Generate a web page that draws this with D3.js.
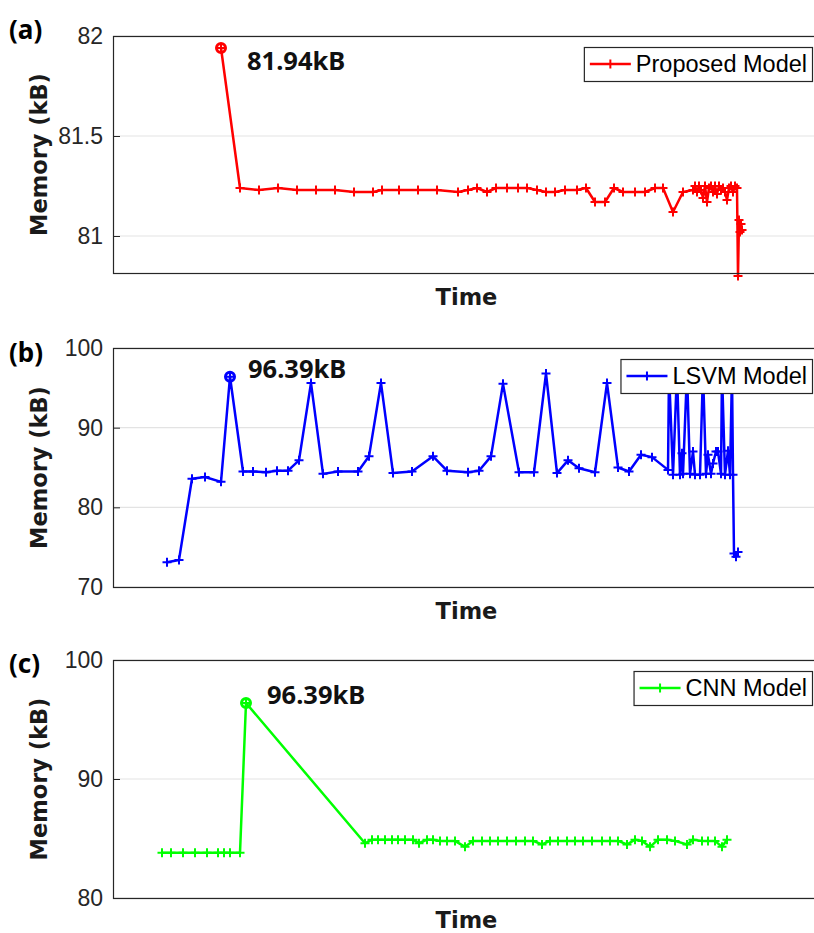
<!DOCTYPE html>
<html>
<head>
<meta charset="utf-8">
<script src="https://cdn.jsdelivr.net/npm/d3@7"></script>
<style>
  body { margin: 0; background: #fff; }
  svg text { font-family: 'Liberation Sans', Arial, sans-serif; }
</style>
</head>
<body>
<div id="chart"></div>
<script>
// Time has no tick labels in the figure, so it is just a run index here (0..707)
const timeProposed = [108, 127, 146, 165, 184, 203, 222, 241, 260, 269, 286, 305, 324, 345, 355, 364, 374, 383, 394, 405,
    414, 424, 433, 442, 452, 464, 473, 482, 492, 501, 510, 522, 532, 542, 550, 560, 570, 580,
    582, 584, 586, 588, 590, 592, 594, 596, 598, 600, 602, 604, 606, 608, 610, 612, 614, 616, 618, 620, 622, 624,
    625, 626, 627, 628, 629];
const memProposed = [81.94, 81.24, 81.23, 81.24, 81.23, 81.23, 81.23, 81.22, 81.22, 81.23, 81.23, 81.23, 81.23, 81.22, 81.23, 81.24, 81.22, 81.24, 81.24, 81.24,
    81.24, 81.23, 81.22, 81.22, 81.23, 81.23, 81.24, 81.17, 81.17, 81.24, 81.22, 81.22, 81.22, 81.24, 81.24, 81.12, 81.22, 81.23,
    81.25, 81.22, 81.25, 81.23, 81.19, 81.25, 81.17, 81.24, 81.25, 81.22, 81.25, 81.21, 81.25, 81.23, 81.24, 81.22, 81.18, 81.24, 81.25, 81.22, 81.25, 81.24,
    80.80, 81.08, 81.02, 81.06, 81.03];

const timeLSVM = [54, 66, 79, 92, 108, 117, 130, 140, 153, 164, 175, 186, 198, 210, 225, 245, 256, 268, 280, 299,
    320, 334, 355, 366, 378, 390, 406, 421, 433, 444, 455, 466, 482, 494, 505, 516, 528, 539, 555,
    556, 560, 564, 567, 569, 570, 574, 577, 580, 582, 587, 590, 593, 595, 598, 600, 603, 605, 608, 609,
    612, 615, 617, 619, 620, 621, 623, 625];
const memLSVM = [73.1, 73.4, 83.6, 83.8, 83.2, 96.39, 84.5, 84.5, 84.4, 84.6, 84.6, 85.9, 95.6, 84.2, 84.5, 84.5, 86.4, 95.6, 84.3, 84.5,
    86.4, 84.6, 84.4, 84.6, 86.4, 95.5, 84.4, 84.4, 96.8, 84.3, 85.9, 84.9, 84.4, 95.6, 85.0, 84.5, 86.6, 86.3, 84.7,
    97, 84.1, 97, 84.1, 86.8, 84.2, 97, 84.2, 87.0, 84.1, 84.1, 97, 84.2, 86.6, 84.2, 85.5, 87.0, 87.0, 84.2, 97,
    84.1, 87.1, 84.1, 97, 84.1, 74.2, 73.8, 74.4];

const timeCNN = [49, 58, 70, 82, 94, 105, 111, 117, 127, 133, 252, 259, 265, 272, 279, 285, 292, 300, 306, 314,
    320, 327, 334, 342, 352, 360, 369, 377, 385, 394, 403, 412, 420, 429, 437, 445, 454, 462, 470, 479,
    489, 497, 505, 514, 522, 529, 537, 545, 554, 562, 574, 580, 589, 595, 602, 609, 614];
const memCNN = [83.8, 83.8, 83.8, 83.8, 83.8, 83.8, 83.8, 83.8, 83.8, 96.39, 84.6, 84.9, 84.9, 84.9, 84.9, 84.9, 84.9, 84.9, 84.6, 84.9,
    84.9, 84.8, 84.8, 84.8, 84.3, 84.8, 84.8, 84.8, 84.8, 84.8, 84.8, 84.8, 84.8, 84.5, 84.8, 84.8, 84.8, 84.8, 84.8, 84.8,
    84.8, 84.8, 84.8, 84.5, 84.9, 84.8, 84.3, 84.9, 84.9, 84.8, 84.5, 84.9, 84.8, 84.8, 84.8, 84.3, 84.9];

// highlighted peaks (first point marked with a circle)
const peakTimes = [108, 117, 133];
const peakMems = [81.94, 96.39, 96.39];
const peakLabels = ['81.94kB', '96.39kB', '96.39kB'];

const legendNames = ['Proposed Model', 'LSVM Model', 'CNN Model'];
const yTicksA = [81, 81.5, 82];
const yTicksB = [70, 80, 90, 100];
const yTicksC = [80, 90, 100];

const WIDTH = 814, HEIGHT = 933;
const LEFT = 113, RIGHT = 820;
const AXIS_COLOR = '#262626';

let svg = d3.select('#chart')
    .append('svg')
    .attr('width', WIDTH)
    .attr('height', HEIGHT);

function drawPanel(p) {
    let x = d3.scaleLinear().domain([0, 707]).range([LEFT, RIGHT]);
    let y = d3.scaleLinear().domain(p.yDomain).range([p.bottom, p.top]);
    let g = svg.append('g');

    // grid
    g.selectAll('.grid')
        .data(p.ticks)
        .enter().append('line')
        .attr('x1', LEFT).attr('x2', RIGHT)
        .attr('y1', (d) => y(d)).attr('y2', (d) => y(d))
        .attr('stroke', '#e3e3e3')
        .attr('stroke-width', 1.2);

    // y axis, ticks pointing inward like matlab
    let yAxis = g.append('g')
        .attr('transform', 'translate(' + LEFT + ',0)')
        .call(d3.axisLeft(y).tickValues(p.ticks).tickSizeInner(-7).tickSizeOuter(0).tickPadding(10)
            .tickFormat((d) => String(d)));
    yAxis.select('.domain').remove();
    yAxis.selectAll('.tick line').attr('stroke', AXIS_COLOR);
    yAxis.selectAll('.tick text')
        .attr('fill', AXIS_COLOR)
        .style('font-family', "'Liberation Sans', Arial, sans-serif")
        .style('font-size', '23px');

    let data = p.times.map((t, i) => ({ t: t, m: p.mems[i] }));

    g.append('path')
        .datum(data)
        .attr('fill', 'none')
        .attr('stroke', p.color)
        .attr('stroke-width', 2.5)
        .attr('stroke-linejoin', 'round')
        .attr('d', d3.line()
            .x((d) => x(d.t))
            .y((d) => y(d.m)));

    g.selectAll('.mark')
        .data(data)
        .enter().append('path')
        .attr('d', 'M-4.5,0H4.5M0,-4.5V4.5')
        .attr('transform', (d) => 'translate(' + x(d.t) + ',' + y(d.m) + ')')
        .attr('stroke', p.color)
        .attr('stroke-width', 2);

    // peak circle + label
    g.append('circle')
        .attr('cx', x(p.peakT)).attr('cy', y(p.peakM))
        .attr('r', 4.5)
        .attr('fill', 'none')
        .attr('stroke', p.color)
        .attr('stroke-width', 3);
    g.append('text')
        .attr('x', x(p.peakT) + p.labelDx)
        .attr('y', y(p.peakM) + p.labelDy)
        .style('font-family', "'Noto Sans', sans-serif")
        .style('font-weight', 'bold')
        .style('font-size', '25.5px')
        .attr('fill', '#111')
        .text(p.peakLabel);

    // axes box (right edge falls just outside the picture)
    g.append('rect')
        .attr('x', LEFT + 0.5).attr('y', p.top + 0.5)
        .attr('width', RIGHT - LEFT).attr('height', p.bottom - p.top)
        .attr('fill', 'none')
        .attr('stroke', AXIS_COLOR)
        .attr('stroke-width', 1.2);

    // legend
    let lg = g.append('g');
    let lbox = lg.append('rect');
    let ltext = lg.append('text')
        .style('font-size', '23.5px')
        .attr('fill', '#000')
        .text(p.name);
    let tw = ltext.node().getComputedTextLength();
    let lw = 52 + tw + 5, lh = 34;
    let lx = 812 - lw, ly = p.top + 11;
    lbox.attr('x', lx + 0.5).attr('y', ly + 0.5)
        .attr('width', lw).attr('height', lh)
        .attr('fill', '#fff')
        .attr('stroke', AXIS_COLOR)
        .attr('stroke-width', 1.2);
    ltext.attr('x', lx + 52).attr('y', ly + lh / 2 + 8);
    lg.append('line')
        .attr('x1', lx + 6).attr('x2', lx + 47)
        .attr('y1', ly + lh / 2).attr('y2', ly + lh / 2)
        .attr('stroke', p.color).attr('stroke-width', 2.5);
    lg.append('path')
        .attr('d', 'M-4.5,0H4.5M0,-4.5V4.5')
        .attr('transform', 'translate(' + (lx + 26.5) + ',' + (ly + lh / 2) + ')')
        .attr('stroke', p.color).attr('stroke-width', 2);

    // axis labels
    g.append('text')
        .attr('transform', 'translate(47,' + (p.top + p.bottom) / 2 + ') rotate(-90)')
        .attr('text-anchor', 'middle')
        .style('font-family', "'DejaVu Sans', sans-serif")
        .style('font-weight', 'bold')
        .style('font-size', '22.5px')
        .attr('fill', '#1a1a1a')
        .text('Memory (kB)');
    g.append('text')
        .attr('x', (LEFT + RIGHT) / 2)
        .attr('y', Math.min(p.bottom + 32, HEIGHT - 5))
        .attr('text-anchor', 'middle')
        .style('font-family', "'DejaVu Sans', sans-serif")
        .style('font-weight', 'bold')
        .style('font-size', '22.5px')
        .attr('fill', '#1a1a1a')
        .text('Time');

    g.append('text')
        .attr('x', 9)
        .attr('y', p.tagY)
        .style('font-family', "'Noto Sans', sans-serif")
        .style('font-weight', 'bold')
        .style('font-size', '26px')
        .attr('fill', '#000')
        .text(p.tag);
}

drawPanel({
    top: 36, bottom: 273, yDomain: [80.815, 82], ticks: yTicksA,
    times: timeProposed, mems: memProposed, color: '#ff0000', name: legendNames[0],
    peakT: peakTimes[0], peakM: peakMems[0], peakLabel: peakLabels[0], labelDx: 26, labelDy: 22,
    tag: '(a)', tagY: 39
});

drawPanel({
    top: 348, bottom: 587, yDomain: [70, 100], ticks: yTicksB,
    times: timeLSVM, mems: memLSVM, color: '#0000ff', name: legendNames[1],
    peakT: peakTimes[1], peakM: peakMems[1], peakLabel: peakLabels[1], labelDx: 18, labelDy: 1,
    tag: '(b)', tagY: 362
});

drawPanel({
    top: 660, bottom: 898, yDomain: [80, 100], ticks: yTicksC,
    times: timeCNN, mems: memCNN, color: '#00ff00', name: legendNames[2],
    peakT: peakTimes[2], peakM: peakMems[2], peakLabel: peakLabels[2], labelDx: 21, labelDy: 1,
    tag: '(c)', tagY: 673
});
</script>
</body>
</html>
